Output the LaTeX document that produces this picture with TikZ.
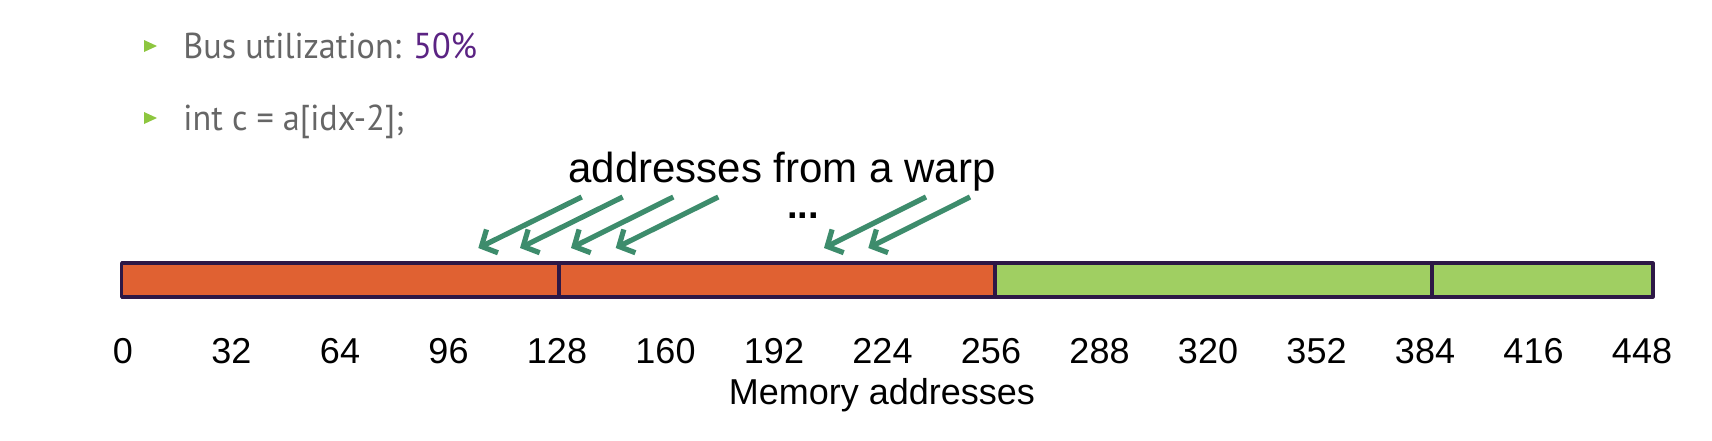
\documentclass[tikz,border=0pt]{standalone}
\usepackage{fontspec}
\setmainfont{Liberation Sans}
\newfontfamily\slidefont[FakeStretch=0.95]{PT Sans}
\usetikzlibrary{arrows.meta}
\definecolor{busorange}{HTML}{E06132}
\definecolor{busgreen}{HTML}{A0CF62}
\definecolor{busedge}{HTML}{2D1846}
\definecolor{warparrow}{HTML}{3D8C6C}
\definecolor{bulletgreen}{HTML}{8DC63F}
\definecolor{slidegrey}{HTML}{666666}
\definecolor{slidepurple}{HTML}{5B2383}

\begin{document}
\begin{tikzpicture}[x=0.5pt,y=-0.5pt,
    segment/.style={draw=busedge,line width=1.6pt,line join=round},
    warp/.style={-{Straight Barb[length=6pt,width=13pt]},warparrow,line width=2.6pt},
    tick/.style={anchor=base,inner sep=0pt,font=\fontsize{18}{20}\selectfont},
    bullet/.style={anchor=base west,inner sep=0pt,text=slidegrey,font=\slidefont\fontsize{18}{20}\selectfont}]
    \useasboundingbox (0,0) rectangle (1712,440);
    \foreach \y in {58,130}
        \fill[bulletgreen] (144,\y-18) -- (157,\y-12) -- (144,\y-6) -- cycle;
    \node[bullet] (bus) at (183,58) {Bus utilization: \textcolor{slidepurple}{50\%}};
    \node[bullet] (code) at (183,130) {int c = a[idx-2];};
    \node[anchor=base,inner sep=0pt,font=\fontsize{21}{24}\selectfont] (warp) at (782,182) {addresses from a warp};
    \node[anchor=base,inner sep=0pt,font=\bfseries\fontsize{19}{20}\selectfont] (dots) at (803,218) {...};
    \foreach \tx/\hx [count=\k] in {581.7/478.3,622.7/520,673.3/571,718.3/615.7,926/824,970/868.3}
    {
        \coordinate (tail\k) at (\tx,197);
        \coordinate (head\k) at (\hx,248);
        \draw[warp] (tail\k) -- (head\k);
    }
    \foreach \a/\b/\c in {121.7/559/busorange,559/995/busorange,995/1432/busgreen,1432/1653/busgreen}
        \draw[segment,fill=\c] (\a,263) rectangle (\b,297);
    \foreach \v [count=\i from 0] in {0,32,...,448}
        \node[tick] (t\v) at (123+108.5*\i,363) {\v};
    \node[anchor=base,inner sep=0pt,font=\fontsize{18}{20}\selectfont] (axis) at (882,404) {Memory addresses};
\end{tikzpicture}
\end{document}
